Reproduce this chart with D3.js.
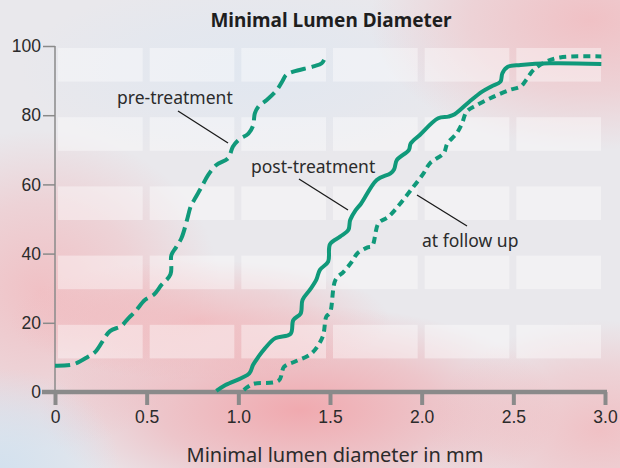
<!doctype html>
<html>
<head>
<meta charset="utf-8">
<title>Minimal Lumen Diameter</title>
<style>
  body { margin:0; background:#ebe9ec; }
  svg { display:block; font-family:"Noto Sans", "Open Sans", sans-serif; }
  .axis text { font-size:17.5px; fill:#2b2b2b; }
  .lbl { font-size:17.5px; fill:#2b2b2b; }
  .lead { stroke:#1a1a1a; stroke-width:1.3px; }
  .curve { fill:none; stroke:#10997a; stroke-width:4px; stroke-linecap:butt; }
</style>
<script src="https://cdn.jsdelivr.net/npm/d3@7"></script>
</head>
<body>
<svg id="chart" width="620" height="468"></svg>
<script>

// data: [diameter mm, cumulative %]
var preTreatment = [[0,7.6],[0.10,8.0],[0.18,10.2],[0.22,11.6],[0.30,17.6],[0.36,19.0],[0.40,21.3],
  [0.44,23.4],[0.49,26.6],[0.54,28.2],[0.58,30.9],[0.63,34.0],[0.635,39.6],[0.66,41.8],[0.69,44.5],
  [0.72,49.7],[0.74,53.6],[0.76,55.6],[0.80,59.3],[0.835,62.7],[0.88,65.6],[0.945,67.6],[0.97,70.9],
  [1.00,72.8],[1.055,74.7],[1.08,76.9],[1.09,80.5],[1.11,82.5],[1.155,84.4],[1.21,87.3],[1.24,89.8],
  [1.26,91.6],[1.30,92.6],[1.41,94.1],[1.455,95.0],[1.47,96.2]]

var postTreatment = [[0.88,0.3],[0.93,2.0],[1.06,5.4],[1.08,7.8],[1.11,10.2],[1.145,12.6],[1.20,15.5],
  [1.285,16.8],[1.30,20.8],[1.34,22.7],[1.35,26.6],[1.39,29.5],[1.425,32.4],[1.445,35.3],[1.49,37.7],
  [1.50,42.7],[1.555,44.9],[1.60,46.8],[1.61,49.7],[1.64,52.6],[1.67,54.5],[1.755,61.3],[1.83,63.2],
  [1.85,64.4],[1.865,67.1],[1.93,69.9],[1.94,71.8],[1.99,74.3],[2.09,79.1],[2.146,79.6],[2.18,80.3],
  [2.26,83.9],[2.33,86.8],[2.38,88.3],[2.43,89.7],[2.44,92.1],[2.47,94.0],[2.54,94.5],[2.70,95.0],
  [2.98,94.8]]

var followUp = [[1.03,0.6],[1.08,2.3],[1.22,3.3],[1.25,7.3],[1.31,8.8],[1.40,11.2],[1.46,16.0],
  [1.48,21.8],[1.50,22.9],[1.53,32.4],[1.575,34.8],[1.62,37.7],[1.65,40.1],[1.705,41.8],[1.73,42.2],
  [1.765,48.8],[1.82,50.7],[1.955,59.3],[2.01,63.2],[2.045,66.1],[2.12,69.0],[2.14,71.8],[2.19,74.7],
  [2.22,77.6],[2.245,81.0],[2.30,82.9],[2.39,85.3],[2.48,87.3],[2.54,88.3],[2.57,90.2],[2.61,93.1],
  [2.68,95.5],[2.755,96.7],[2.98,97.0]]

var xTicks = [0, 0.5, 1.0, 1.5, 2.0, 2.5, 3.0]
var xTickLabels = ["0", "0.5", "1.0", "1.5", "2.0", "2.5", "3.0"]
var yTicks = [0, 20, 40, 60, 80, 100]

var svg = d3.select("#chart")

// background wash
var defs = svg.append("defs")
function blob(id, c, o) {
  var g = defs.append("radialGradient").attr("id", id)
  g.append("stop").attr("offset", "0%").attr("stop-color", c).attr("stop-opacity", o)
  g.append("stop").attr("offset", "55%").attr("stop-color", c).attr("stop-opacity", o * 0.55)
  g.append("stop").attr("offset", "100%").attr("stop-color", c).attr("stop-opacity", 0)
}
blob("pink", "#f29aa0", 0.8)
blob("pinkSoft", "#f3b0b4", 0.7)
blob("blue", "#d3e1ee", 1)
blob("blueSoft", "#dfe7f1", 0.8)

svg.append("rect").attr("width", 620).attr("height", 468).attr("fill", "#e9e8ec")
var washes = [
  ["blueSoft", 250, 70, 230, 90],
  ["pinkSoft", 40, 290, 180, 160],
  ["pink", 300, 410, 260, 105],
  ["pinkSoft", 200, 320, 190, 60],
  ["pinkSoft", 590, 20, 220, 130],
  ["pinkSoft", 600, 430, 170, 110],
  ["blue", 0, 468, 120, 100]
]
svg.selectAll("ellipse.wash").data(washes).enter().append("ellipse")
  .attr("class", "wash")
  .attr("cx", function(d){ return d[1] }).attr("cy", function(d){ return d[2] })
  .attr("rx", function(d){ return d[3] }).attr("ry", function(d){ return d[4] })
  .attr("fill", function(d){ return "url(#" + d[0] + ")" })

var x = d3.scaleLinear().domain([0, 3]).range([55, 605])
var y = d3.scaleLinear().domain([0, 100]).range([392, 46])

// lighter cells in the upper half of each 20% band
var cells = []
for (var i = 0; i < 6; i++) {
  for (var j = 0; j < 5; j++) {
    cells.push([xTicks[i], xTicks[i + 1], yTicks[j] + 10, yTicks[j + 1]])
  }
}
svg.selectAll("rect.cell").data(cells).enter().append("rect")
  .attr("class", "cell")
  .attr("x", function(d){ return x(d[0]) + 3 })
  .attr("width", function(d){ return x(d[1]) - x(d[0]) - 7 })
  .attr("y", function(d){ return y(d[3]) + 2 })
  .attr("height", function(d){ return y(d[2]) - y(d[3]) - 1 })
  .attr("fill", "#ffffff").attr("opacity", 0.4)

// axes
var xAxis = svg.append("g").attr("class", "axis").attr("transform", "translate(0,392)")
  .call(d3.axisBottom(x).tickValues(xTicks).tickFormat(function(d, i){ return xTickLabels[i] })
    .tickSize(13).tickPadding(6))
xAxis.select(".domain").remove()
xAxis.selectAll("line").attr("stroke", "#8a8a8a").attr("stroke-width", 4)
xAxis.append("line").attr("x1", 42).attr("x2", 607).attr("stroke", "#8a8a8a").attr("stroke-width", 4.5)

var yAxis = svg.append("g").attr("class", "axis").attr("transform", "translate(55,0)")
  .call(d3.axisLeft(y).tickValues(yTicks).tickSize(12).tickPadding(2))
yAxis.select(".domain").attr("stroke", "#8a8a8a").attr("stroke-width", 1.5).attr("d", "M0,46V392")
yAxis.selectAll("line").attr("stroke", "#8a8a8a").attr("stroke-width", 1.5)

// curves
var line = d3.line()
  .x(function(d){ return x(d[0]) })
  .y(function(d){ return y(d[1]) })
  .curve(d3.curveCatmullRom.alpha(0.5))

svg.append("path").attr("class", "curve").datum(preTreatment).attr("d", line)
  .attr("stroke-dasharray", "15,6")
svg.append("path").attr("class", "curve").datum(postTreatment).attr("d", line)
svg.append("path").attr("class", "curve").datum(followUp).attr("d", line)
  .attr("stroke-dasharray", "7,5").attr("stroke-linecap", "round")

// labels with leader lines
var labels = [
  { text: "pre-treatment", tx: 117, ty: 104, l: [178, 111, 228, 143] },
  { text: "post-treatment", tx: 251, ty: 173, l: [299, 179, 348, 210] },
  { text: "at follow up", tx: 422, ty: 247, l: [417, 195, 467, 226] }
]
svg.selectAll("text.lbl").data(labels).enter().append("text")
  .attr("class", "lbl").attr("x", function(d){ return d.tx }).attr("y", function(d){ return d.ty })
  .text(function(d){ return d.text })
svg.selectAll("line.lead").data(labels).enter().append("line")
  .attr("class", "lead")
  .attr("x1", function(d){ return d.l[0] }).attr("y1", function(d){ return d.l[1] })
  .attr("x2", function(d){ return d.l[2] }).attr("y2", function(d){ return d.l[3] })

// titles
svg.append("text").attr("x", 331).attr("y", 27).attr("text-anchor", "middle")
  .style("font-size", "19px").style("font-weight", "bold").attr("fill", "#1e1e1e")
  .text("Minimal Lumen Diameter")
svg.append("text").attr("x", 335).attr("y", 462).attr("text-anchor", "middle")
  .style("font-size", "20px").attr("fill", "#2b2b2b")
  .text("Minimal lumen diameter in mm")

</script>
</body>
</html>
